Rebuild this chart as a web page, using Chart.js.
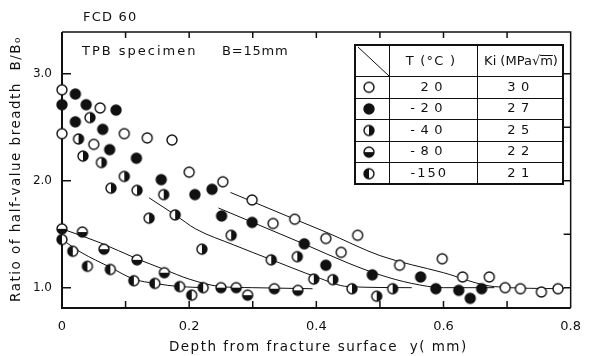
<!DOCTYPE html>
<html>
<head>
<meta charset="utf-8">
<script src="https://cdn.jsdelivr.net/npm/chart.js@4.4.1/dist/chart.umd.min.js"></script>
<style>
  html, body { margin: 0; padding: 0; background: #fff; }
  #chart { display: block; }
</style>
</head>
<body>
<canvas id="chart" width="592" height="356"></canvas>
<script>
// legend table values
const temps = ['20', '-20', '-40', '-80', '-150'];
const kiValues = ['30', '27', '25', '22', '21'];

// tick labels / tick positions
const xTicks = [0, 0.2, 0.4, 0.6, 0.8];
const yTicks = [1, 2, 3];
const xMinor = [0.1, 0.2, 0.3, 0.4, 0.5, 0.6, 0.7];
const yRight = [1, 1.5, 2, 2.5, 3];

// measured points [depth mm, B/B0]
const t20 = [[0,2.85],[0.06,2.68],[0,2.44],[0.05,2.34],[0.098,2.44],[0.134,2.40],[0.173,2.38],[0.2,2.08],
  [0.253,1.99],[0.299,1.82],[0.332,1.60],[0.366,1.64],[0.415,1.46],[0.439,1.33],[0.465,1.49],[0.531,1.21],
  [0.598,1.27],[0.63,1.10],[0.672,1.10],[0.697,1.0],[0.721,0.99],[0.754,0.96],[0.78,0.99]];
const tM20 = [[0.021,2.81],[0,2.71],[0.038,2.71],[0.085,2.66],[0.021,2.55],[0.064,2.48],[0.075,2.29],[0.117,2.21],
  [0.156,2.01],[0.209,1.87],[0.236,1.92],[0.251,1.67],[0.299,1.61],[0.381,1.41],[0.415,1.21],[0.488,1.12],
  [0.564,1.10],[0.588,0.99],[0.624,0.975],[0.642,0.90],[0.66,0.99]];
const tM40 = [[0.044,2.59],[0.026,2.39],[0.033,2.23],[0.062,2.17],[0.098,2.04],[0.077,1.93],[0.118,1.91],[0.16,1.87],
  [0.137,1.65],[0.178,1.68],[0.22,1.36],[0.266,1.49],[0.329,1.26],[0.37,1.29],[0.396,1.08],[0.426,1.075],
  [0.456,0.99],[0.495,0.92],[0.52,0.99]];
const tM80 = [[0,1.55],[0.032,1.52],[0.066,1.36],[0.118,1.26],[0.161,1.14],[0.25,1.0],[0.274,1.0],[0.292,0.93],
  [0.334,0.99],[0.371,0.975]];
const tM150 = [[0,1.45],[0.017,1.34],[0.04,1.20],[0.076,1.17],[0.113,1.065],[0.146,1.04],[0.185,1.01],[0.204,0.93],[0.222,1.0]];

// hand-drawn trend curves
const fit20 = [[0.265,1.89],[0.366,1.64],[0.415,1.52],[0.5,1.30],[0.6,1.14],[0.68,1.01],[0.79,0.99]];
const fitM20 = [[0.246,1.745],[0.3,1.61],[0.38,1.41],[0.45,1.23],[0.5,1.12],[0.55,1.04],[0.6,1.0],[0.68,1.0]];
const fitM40 = [[0.137,1.84],[0.178,1.68],[0.21,1.55],[0.27,1.40],[0.33,1.26],[0.4,1.10],[0.45,1.01],[0.55,1.0]];
const fitM80 = [[0,1.55],[0.06,1.42],[0.118,1.27],[0.161,1.17],[0.2,1.08],[0.25,1.01],[0.3,1.0],[0.394,0.99]];
const fitM150 = [[0,1.45],[0.03,1.33],[0.076,1.19],[0.113,1.08],[0.146,1.04],[0.185,1.01],[0.23,1.0]];

const FONT = '"DejaVu Sans", sans-serif';
const INK = '#111';

function marker(kind) {
  const s = 14, c = document.createElement('canvas');
  c.width = s; c.height = s;
  const g = c.getContext('2d');
  const cx = 7, cy = 7, r = 5;
  g.fillStyle = '#fff';
  g.beginPath(); g.arc(cx, cy, r, 0, 2 * Math.PI); g.fill();
  g.fillStyle = INK;
  g.beginPath();
  if (kind === 'full') g.arc(cx, cy, r, 0, 2 * Math.PI);
  else if (kind === 'right') g.arc(cx, cy, r, -Math.PI / 2, Math.PI / 2);
  else if (kind === 'bottom') g.arc(cx, cy, r, 0, Math.PI);
  else if (kind === 'left') g.arc(cx, cy, r, Math.PI / 2, 3 * Math.PI / 2);
  g.closePath();
  if (kind !== 'open') g.fill();
  g.strokeStyle = INK; g.lineWidth = 1.4;
  g.beginPath(); g.arc(cx, cy, r, 0, 2 * Math.PI); g.stroke();
  return c;
}

const marks = [marker('open'), marker('full'), marker('right'), marker('bottom'), marker('left')];
const seriesPts = [t20, tM20, tM40, tM80, tM150];
const seriesFit = [fit20, fitM20, fitM40, fitM80, fitM150];

const toXY = arr => arr.map(p => ({ x: p[0], y: p[1] }));

const datasets = [];
seriesFit.forEach((f, i) => datasets.push({
  label: 'fit ' + temps[i],
  data: toXY(f),
  showLine: true,
  borderColor: INK,
  borderWidth: 1,
  pointRadius: 0,
  cubicInterpolationMode: 'monotone',
  order: 2,
  clip: false
}));
seriesPts.forEach((p, i) => datasets.push({
  label: temps[i] + ' °C',
  data: toXY(p),
  showLine: false,
  pointStyle: marks[i],
  pointRadius: 7,
  order: 1,
  clip: false
}));

function spacedText(ctx, txt, x, y, spacing, align) {
  ctx.letterSpacing = spacing + 'px';
  ctx.textAlign = align || 'left';
  ctx.fillText(txt, x, y);
  ctx.letterSpacing = '0px';
}

const frame = {
  id: 'frame',
  beforeDatasetsDraw(chart) {
    const { ctx, chartArea: a, scales: { x, y } } = chart;
    ctx.save();
    ctx.strokeStyle = INK;
    ctx.lineWidth = 1.5;
    ctx.beginPath();
    ctx.moveTo(a.left, a.top); ctx.lineTo(a.right, a.top); ctx.lineTo(a.right, a.bottom);
    ctx.stroke();
    ctx.lineWidth = 2;
    ctx.beginPath();
    ctx.moveTo(a.left, a.top); ctx.lineTo(a.left, a.bottom); ctx.lineTo(a.right, a.bottom);
    ctx.stroke();
    ctx.lineWidth = 1.5;
    ctx.beginPath();
    xMinor.forEach(v => {
      const px = x.getPixelForValue(v);
      ctx.moveTo(px, a.bottom); ctx.lineTo(px, a.bottom - 7);
      ctx.moveTo(px, a.top); ctx.lineTo(px, a.top + 6);
    });
    yTicks.forEach(v => {
      const py = y.getPixelForValue(v);
      ctx.moveTo(a.left, py); ctx.lineTo(a.left + 9, py);
    });
    yRight.forEach(v => {
      const py = y.getPixelForValue(v);
      ctx.moveTo(a.right, py); ctx.lineTo(a.right - 7, py);
    });
    ctx.stroke();
    ctx.restore();
  },
  afterDraw(chart) {
    const { ctx, chartArea: a } = chart;
    ctx.save();
    ctx.fillStyle = INK;
    ctx.textBaseline = 'middle';
    ctx.font = '13px ' + FONT;
    spacedText(ctx, 'FCD 60', 83, 18, 1.2);
    spacedText(ctx, 'TPB specimen', 82, 52, 2);
    spacedText(ctx, 'B=15mm', 222, 52, 0.8);
    ctx.font = '13.5px ' + FONT;
    spacedText(ctx, 'Depth from fracture surface  y( mm)', (a.left + a.right) / 2 + 2, 347, 1.5, 'center');
    ctx.save();
    ctx.translate(16, (a.top + a.bottom) / 2 - 1);
    ctx.rotate(-Math.PI / 2);
    spacedText(ctx, 'Ratio of half-value breadth  B/B₀', 0, 0, 1.5, 'center');
    ctx.restore();

    // legend table
    const L = 355, R = 563, T = 45, B = 184, c1 = 389, c2 = 477, head = 76;
    const rowH = (B - head) / temps.length;
    ctx.fillStyle = '#fff';
    ctx.fillRect(L, T, R - L, B - T);
    ctx.strokeStyle = INK;
    ctx.lineWidth = 1;
    ctx.beginPath();
    ctx.moveTo(c1 + 0.5, T); ctx.lineTo(c1 + 0.5, B);
    ctx.moveTo(c2 + 0.5, T); ctx.lineTo(c2 + 0.5, B);
    ctx.moveTo(L, head + 0.5); ctx.lineTo(R, head + 0.5);
    for (let i = 1; i < temps.length; i++) {
      const ry = Math.round(head + rowH * i) + 0.5;
      ctx.moveTo(L, ry); ctx.lineTo(R, ry);
    }
    ctx.moveTo(L + 3, T + 2); ctx.lineTo(c1, head);
    ctx.stroke();
    ctx.lineWidth = 2;
    ctx.strokeRect(L, T, R - L, B - T);

    ctx.fillStyle = INK;
    ctx.font = '13px ' + FONT;
    spacedText(ctx, 'T (°C )', (c1 + c2) / 2 - 2, (T + head) / 2 + 1, 1.2, 'center');
    spacedText(ctx, 'Ki (MPa√m)', (c2 + R) / 2 + 1, (T + head) / 2 + 1, 0, 'center');
    const mw = ctx.measureText('m)').width, rw = ctx.measureText(')').width;
    const mEnd = (c2 + R) / 2 + 1 + ctx.measureText('Ki (MPa√m)').width / 2 - rw;
    ctx.lineWidth = 1;
    ctx.beginPath();
    ctx.moveTo(mEnd - (mw - rw), T + 10.5); ctx.lineTo(mEnd, T + 10.5);
    ctx.stroke();

    temps.forEach((t, i) => {
      const cy = head + rowH * (i + 0.5) + 0.5;
      ctx.drawImage(marks[i], 369 - 7, cy - 7);
      spacedText(ctx, t, 448, cy, t.length > 3 ? 2 : 5.5, 'right');
      spacedText(ctx, kiValues[i], 521, cy, 5.5, 'center');
    });
    ctx.restore();
  }
};

const ctx = document.getElementById('chart').getContext('2d');
new Chart(ctx, {
  type: 'scatter',
  data: { datasets: datasets },
  plugins: [frame],
  options: {
    responsive: false,
    animation: false,
    events: [],
    layout: { padding: { top: 32, right: 7, left: 0, bottom: 0 } },
    plugins: { legend: { display: false }, tooltip: { enabled: false }, title: { display: false } },
    scales: {
      x: {
        type: 'linear', min: 0, max: 0.8,
        grid: { display: false, drawTicks: false },
        border: { display: false },
        afterBuildTicks: s => { s.ticks = xTicks.map(v => ({ value: v })); },
        afterFit: s => { s.height = 48; },
        ticks: {
          padding: 11, color: INK, font: { family: FONT, size: 13 },
          callback: v => v === 0 ? '0' : v.toFixed(1)
        }
      },
      y: {
        type: 'linear', min: 0.81, max: 3.39,
        grid: { display: false, drawTicks: false },
        border: { display: false },
        afterBuildTicks: s => { s.ticks = yTicks.map(v => ({ value: v })); },
        afterFit: s => { s.width = 62; },
        ticks: {
          padding: 10, color: INK, font: { family: FONT, size: 12 },
          callback: v => v.toFixed(1)
        }
      }
    }
  }
});
</script>
</body>
</html>
